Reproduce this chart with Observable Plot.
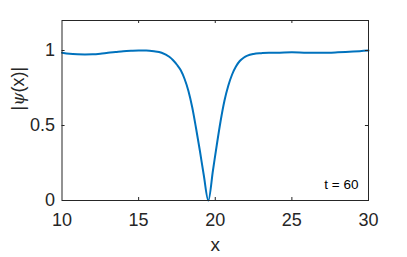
<!DOCTYPE html>
<html><head><meta charset="utf-8">
<script src="https://cdn.jsdelivr.net/npm/d3@7"></script>
<script src="https://cdn.jsdelivr.net/npm/@observablehq/plot@0.6"></script>
<style>
html,body{margin:0;padding:0;background:#fff;}
svg{display:block;}
</style>
</head><body>
<div id="chart"></div>
<script>
const xValues = [10, 10.5, 11, 11.5, 12, 12.5, 13, 13.5, 14, 14.5, 15, 15.5, 16, 16.5, 17, 17.25, 17.5, 17.75, 18, 18.25, 18.5, 18.75, 19, 19.25, 19.55, 19.85, 20.1, 20.35, 20.6, 20.85, 21.1, 21.35, 21.6, 21.85, 22.1, 22.5, 23, 23.5, 24, 25, 26, 27, 28, 29, 30];
const psiValues = [0.985, 0.978, 0.975, 0.974, 0.975, 0.979, 0.985, 0.99, 0.995, 0.998, 1.0, 1.0, 0.995, 0.985, 0.958, 0.935, 0.905, 0.868, 0.81, 0.73, 0.62, 0.48, 0.33, 0.17, 0, 0.2, 0.37, 0.53, 0.665, 0.765, 0.84, 0.893, 0.93, 0.952, 0.966, 0.977, 0.982, 0.985, 0.985, 0.988, 0.985, 0.985, 0.988, 0.993, 1.0];
const xTicks = [10, 15, 20, 25, 30];
const yTicks = [0, 0.5, 1];
const xTickLabels = ["10", "15", "20", "25", "30"];
const yTickLabels = ["0", "0.5", "1"];
const xLabel = "x";
const yLabelParts = ["|", "ψ", "(x)|"];
const annotation = "t = 60";

const data = xValues.map((x, i) => ({x, y: psiValues[i]}));
const axisColor = "#262626";
const font = "'Liberation Sans', Arial, Helvetica, sans-serif";

const chart = Plot.plot({
  width: 407,
  height: 257,
  marginLeft: 61.5,
  marginRight: 39,
  marginTop: 20,
  marginBottom: 57,
  style: {fontFamily: font, color: axisColor, background: "#fff"},
  x: {domain: [10, 30]},
  y: {domain: [0, 1.2]},
  marks: [
    Plot.line(data, {x: "x", y: "y", stroke: "#0072BD", strokeWidth: 2, curve: "monotone-x"}),
    Plot.frame({stroke: axisColor, strokeWidth: 1}),
    Plot.ruleX(xTicks.slice(1, -1), {x: d => d, y1: 0, y2: 0.02, stroke: axisColor}),
    Plot.ruleX(xTicks.slice(1, -1), {x: d => d, y1: 1.18, y2: 1.2, stroke: axisColor}),
    Plot.ruleY(yTicks.slice(1), {y: d => d, x1: 10, x2: 10.2, stroke: axisColor}),
    Plot.ruleY(yTicks.slice(1), {y: d => d, x1: 29.8, x2: 30, stroke: axisColor}),
    Plot.axisX(xTicks, {tickSize: 0, tickPadding: 13, fontSize: 18, tickFormat: (d, i) => xTickLabels[i], label: null, fill: axisColor}),
    Plot.axisY(yTicks, {tickSize: 0, tickPadding: 7, fontSize: 18, tickFormat: (d, i) => yTickLabels[i], label: null, fill: axisColor}),
    Plot.text([xLabel], {frameAnchor: "bottom", dy: 44, fontSize: 19, fill: axisColor, lineAnchor: "middle"}),
    Plot.text([yLabelParts.join("")], {frameAnchor: "left", dx: -44, rotate: -90, fontSize: 18, fill: axisColor, lineAnchor: "middle", className: "ylab"}),
    Plot.text([annotation], {frameAnchor: "bottom-right", dx: -10, dy: -12, textAnchor: "end", lineAnchor: "bottom", fontSize: 13.5, fill: "#000"})
  ]
});
const lab = d3.select(chart).select("g.ylab text");
if (!lab.empty()) {
  lab.text(null);
  yLabelParts.forEach((p, i) => {
    const t = lab.append("tspan").text(p);
    if (i === 1) t.attr("font-style", "italic").attr("font-family", "'DejaVu Serif', 'Liberation Serif', serif").attr("font-size", 17);
  });
}
document.getElementById("chart").appendChild(chart);
</script>
</body></html>
